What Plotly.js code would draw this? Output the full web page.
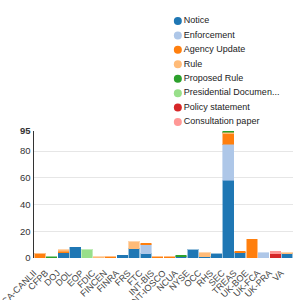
<!DOCTYPE html>
<html>
<head>
<meta charset="utf-8">
<script src="https://cdn.plot.ly/plotly-3.0.1.min.js"></script>
<style>html,body{margin:0;padding:0;background:#fff;}#chart{width:300px;height:300px;}</style>
</head>
<body>
<div id="chart"></div>
<script>
const categories = ['CA-CANLII','CFPB','DOJ','DOL','EOP','FDIC','FINCEN','FINRA','FRS','FTC','INT-BIS','INT-IOSCO','NCUA','NYSE','OCC','RHS','SEC','TREAS','UK-BOE','UK-FCA','UK-PRA','VA'];
const seriesNames = ['Notice','Enforcement','Agency Update','Rule','Proposed Rule','Presidential Documen...','Policy statement','Consultation paper'];
const seriesColors = ['#1f77b4','#aec7e8','#ff7f0e','#ffbb78','#2ca02c','#98df8a','#d62728','#ff9896'];
const borderColors = ['rgba(31,119,180,0.45)','rgba(174,199,232,0.6)','rgba(255,127,14,0.5)','rgba(255,187,120,0.6)','rgba(44,160,44,0.5)','rgba(152,223,138,0.6)','rgba(214,39,40,0.5)','rgba(255,152,150,0.6)'];

const notice       = [0,0,4,8,0,0,0,2,7,3,0,0,1,6,1,3,58,4,0,0,0,3];
const enforcement  = [0,0,0,0,0,0,0,0,0,7,0,0,0,0,0,0,27,0,0,4,0,0];
const agencyUpdate = [3,0,1,0,0,0,1,0,0,1,1,1,0,0,0,0,8,1,14,0,0,0];
const rule         = [0,0,1,0,0,1,0,0,5,0,0,0,0,0,3,0,1,0,0,0,0,1];
const proposedRule = [0,1,0,0,0,0,0,0,0,0,0,0,1,0,0,0,1,0,0,0,0,0];
const presidential = [0,0,0,0,6,0,0,0,0,0,0,0,0,0,0,0,0,0,0,0,0,0];
const policyStmt   = [0,0,0,0,0,0,0,0,0,0,0,0,0,0,0,0,0,0,0,0,3,0];
const consultation = [0,0,0,0,0,0,0,0,0,0,0,0,0,0,0,0,0,0,0,0,2,0];

const yTickVals = [0,20,40,60,80,95];
const yTickText = ['0','20','40','60','80','<b>95</b>'];

const series = [notice, enforcement, agencyUpdate, rule, proposedRule, presidential, policyStmt, consultation];

const traces = series.map((vals, i) => ({
  type: 'bar',
  name: seriesNames[i],
  x: categories,
  y: vals.map(v => v === 0 ? null : v),
  marker: {color: seriesColors[i], line: {color: borderColors[i], width: 1}},
  showlegend: false,
  xaxis: 'x', yaxis: 'y'
}));

traces.push({
  type: 'scatter',
  mode: 'markers+text',
  x: seriesNames.map(() => 0.06),
  y: seriesNames.map((_, i) => i),
  text: seriesNames,
  textposition: 'middle right',
  textfont: {size: 9, color: '#222', family: 'Liberation Sans, Arial, sans-serif'},
  marker: {size: 8, color: seriesColors},
  showlegend: false,
  hoverinfo: 'skip',
  cliponaxis: false,
  xaxis: 'x2', yaxis: 'y2'
});

const layout = {
  width: 300, height: 300,
  margin: {l: 34, r: 7, t: 10, b: 42},
  paper_bgcolor: '#fff', plot_bgcolor: '#fff',
  font: {family: 'Liberation Sans, Arial, sans-serif', size: 9, color: '#444'},
  barmode: 'stack',
  bargap: 0.1,
  showlegend: false,
  xaxis: {
    type: 'category', domain: [0, 1], anchor: 'y',
    tickangle: -45, tickfont: {size: 9, color: '#444'},
    ticklabelstandoff: 7, ticklabelshift: -6,
    showline: false, showgrid: false, zeroline: false, ticks: '',
    automargin: false, fixedrange: true
  },
  yaxis: {
    domain: [0, 0.512], anchor: 'x',
    range: [0, 95], tickvals: yTickVals, ticktext: yTickText,
    tickfont: {size: 9.5, color: '#333'},
    showgrid: true, gridcolor: '#e6e6e6', gridwidth: 1,
    showline: true, linecolor: '#333', linewidth: 1.5,
    zeroline: false, ticks: '', automargin: false, fixedrange: true
  },
  xaxis2: {domain: [0.527, 1], anchor: 'y2', range: [0, 1], visible: false, fixedrange: true},
  yaxis2: {domain: [0.536, 0.968], anchor: 'x2', range: [7.21, -0.21], visible: false, fixedrange: true}
};

Plotly.newPlot('chart', traces, layout, {displayModeBar: false, staticPlot: true});
</script>
</body>
</html>
